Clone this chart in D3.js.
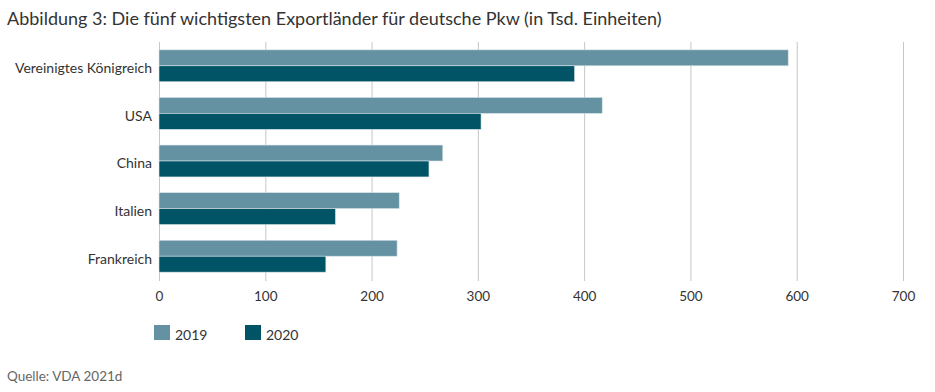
<!DOCTYPE html>
<html><head><meta charset="utf-8">
<script src="https://cdn.jsdelivr.net/npm/d3@7"></script>
<style>body{margin:0;background:#fff;}svg{display:block;font-family:Lato,"Open Sans",sans-serif;}</style>
</head><body><svg id="c" width="935" height="392"></svg>
<script>
const categories = ["Vereinigtes Königreich","USA","China","Italien","Frankreich"];
const series = ["2019","2020"];
const values2019 = [592, 417, 267, 226, 224];
const values2020 = [391, 303, 254, 166, 157];
const xTicks = [0,100,200,300,400,500,600,700];
const colors = ["#6592a2","#015466"];

const svg = d3.select("#c");
const x = d3.scaleLinear().domain([0,700]).range([159,903]);
const y = d3.scaleBand().domain(categories).range([42,280]).paddingInner(0.33).paddingOuter(0.165);
const ys = d3.scaleBand().domain(series).range([0,y.bandwidth()]);

svg.append("text").attr("x",7).attr("y",25).attr("font-size",18).attr("fill","#333")
  .text("Abbildung 3: Die fünf wichtigsten Exportländer für deutsche Pkw (in Tsd. Einheiten)");

// gridlines
svg.append("g").selectAll("line").data(xTicks).join("line")
  .attr("x1",d=>x(d)+0.5).attr("x2",d=>x(d)+0.5).attr("y1",42).attr("y2",281)
  .attr("stroke","#c6c6c6").attr("stroke-width",1);

const xAxis = svg.append("g").attr("transform","translate(0,280)")
  .call(d3.axisBottom(x).tickValues(xTicks).tickSize(0).tickPadding(11));
xAxis.select(".domain").remove();
xAxis.selectAll("text").attr("font-size",13.5).attr("fill","#333").attr("font-family","Lato,'Open Sans',sans-serif");

const yAxis = svg.append("g").attr("transform","translate(152,3)")
  .call(d3.axisLeft(y).tickSize(0).tickPadding(0));
yAxis.select(".domain").remove();
yAxis.selectAll("text").attr("font-size",14).attr("fill","#333").attr("font-family","Lato,'Open Sans',sans-serif");

const data = [values2019, values2020];
series.forEach((s,i)=>{
  svg.append("g").selectAll("rect").data(categories).join("rect")
    .attr("x",x(0)).attr("y",(c)=>y(c)+ys(s))
    .attr("width",(c,j)=>x(data[i][j])-x(0)).attr("height",ys.bandwidth())
    .attr("fill",colors[i]).attr("stroke","#d8e3e7").attr("stroke-width",0.6);
});

// legend
const lg = svg.append("g");
series.forEach((s,i)=>{
  const lx = 154 + i*91;
  lg.append("rect").attr("x",lx).attr("y",325).attr("width",16).attr("height",15).attr("fill",colors[i]);
  lg.append("text").attr("x",lx+21).attr("y",340).attr("font-size",14).attr("fill","#333").text(s);
});

svg.append("text").attr("x",7).attr("y",381).attr("font-size",13.5).attr("fill","#666").text("Quelle: VDA 2021d");
</script></body></html>
